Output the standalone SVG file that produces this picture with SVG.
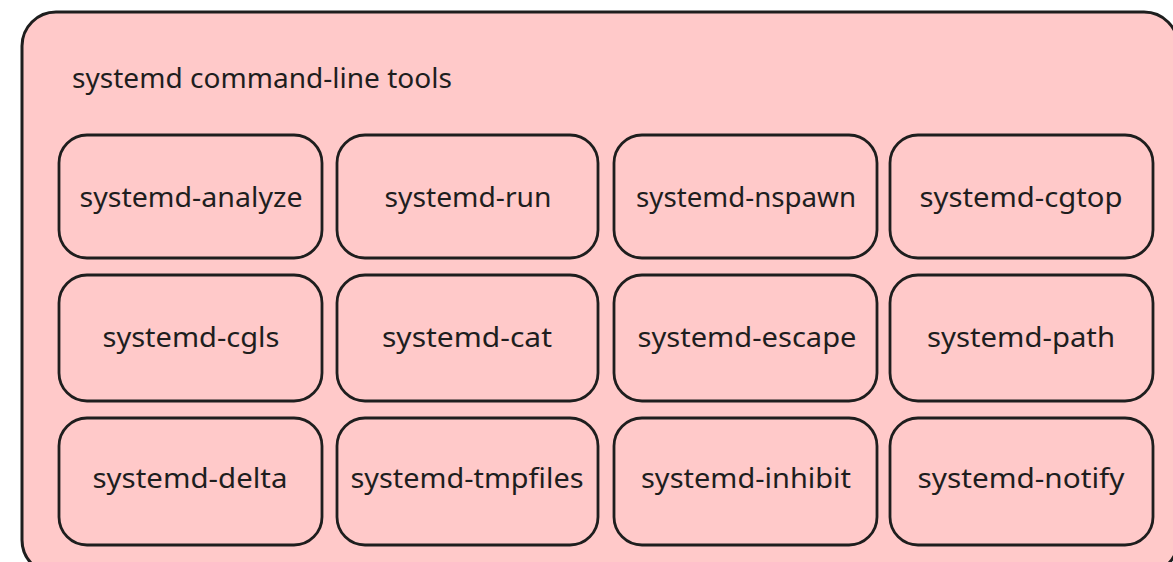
<svg xmlns="http://www.w3.org/2000/svg" width="1173" height="562" viewBox="0 0 1173 562">
<style>
.frame{fill:#ffc9c9;stroke:#1e1e1e;stroke-width:3}
.node rect{fill:#ffc9c9;stroke:#1e1e1e;stroke-width:2.8}
.lbl{font-family:"Noto Sans","Open Sans","DejaVu Sans",sans-serif;font-size:27px;fill:#1e1e1e;text-anchor:middle}
.title{font-family:"Noto Sans","Open Sans","DejaVu Sans",sans-serif;font-size:27px;fill:#1e1e1e}
</style>
<rect width="1173" height="562" fill="#ffffff"/>
<g id="container">
<rect class="frame" x="22" y="12" width="1156" height="562" rx="34"/>
<text class="title" x="72" y="88" textLength="380" lengthAdjust="spacingAndGlyphs">systemd command-line tools</text>
</g>
<g id="n-analyze" class="node"><rect x="59" y="135" width="263" height="123" rx="28"/><text class="lbl" x="191" y="207" textLength="223" lengthAdjust="spacingAndGlyphs">systemd-analyze</text></g>
<g id="n-run" class="node"><rect x="337" y="135" width="261" height="123" rx="28"/><text class="lbl" x="468" y="207" textLength="167" lengthAdjust="spacingAndGlyphs">systemd-run</text></g>
<g id="n-nspawn" class="node"><rect x="614" y="135" width="263" height="123" rx="28"/><text class="lbl" x="746" y="207" textLength="220" lengthAdjust="spacingAndGlyphs">systemd-nspawn</text></g>
<g id="n-cgtop" class="node"><rect x="890" y="135" width="263" height="123" rx="28"/><text class="lbl" x="1021" y="207" textLength="203" lengthAdjust="spacingAndGlyphs">systemd-cgtop</text></g>
<g id="n-cgls" class="node"><rect x="59" y="275" width="263" height="126" rx="28"/><text class="lbl" x="191" y="347" textLength="177" lengthAdjust="spacingAndGlyphs">systemd-cgls</text></g>
<g id="n-cat" class="node"><rect x="337" y="275" width="261" height="126" rx="28"/><text class="lbl" x="467" y="347" textLength="170" lengthAdjust="spacingAndGlyphs">systemd-cat</text></g>
<g id="n-escape" class="node"><rect x="614" y="275" width="263" height="126" rx="28"/><text class="lbl" x="747" y="347" textLength="219" lengthAdjust="spacingAndGlyphs">systemd-escape</text></g>
<g id="n-path" class="node"><rect x="890" y="275" width="263" height="126" rx="28"/><text class="lbl" x="1021" y="347" textLength="188" lengthAdjust="spacingAndGlyphs">systemd-path</text></g>
<g id="n-delta" class="node"><rect x="59" y="418" width="263" height="127" rx="28"/><text class="lbl" x="190" y="488" textLength="195" lengthAdjust="spacingAndGlyphs">systemd-delta</text></g>
<g id="n-tmpfiles" class="node"><rect x="337" y="418" width="261" height="127" rx="28"/><text class="lbl" x="467" y="488" textLength="233" lengthAdjust="spacingAndGlyphs">systemd-tmpfiles</text></g>
<g id="n-inhibit" class="node"><rect x="614" y="418" width="263" height="127" rx="28"/><text class="lbl" x="746" y="488" textLength="210" lengthAdjust="spacingAndGlyphs">systemd-inhibit</text></g>
<g id="n-notify" class="node"><rect x="890" y="418" width="263" height="127" rx="28"/><text class="lbl" x="1021" y="488" textLength="207" lengthAdjust="spacingAndGlyphs">systemd-notify</text></g>
<g id="connectors"/>
</svg>
